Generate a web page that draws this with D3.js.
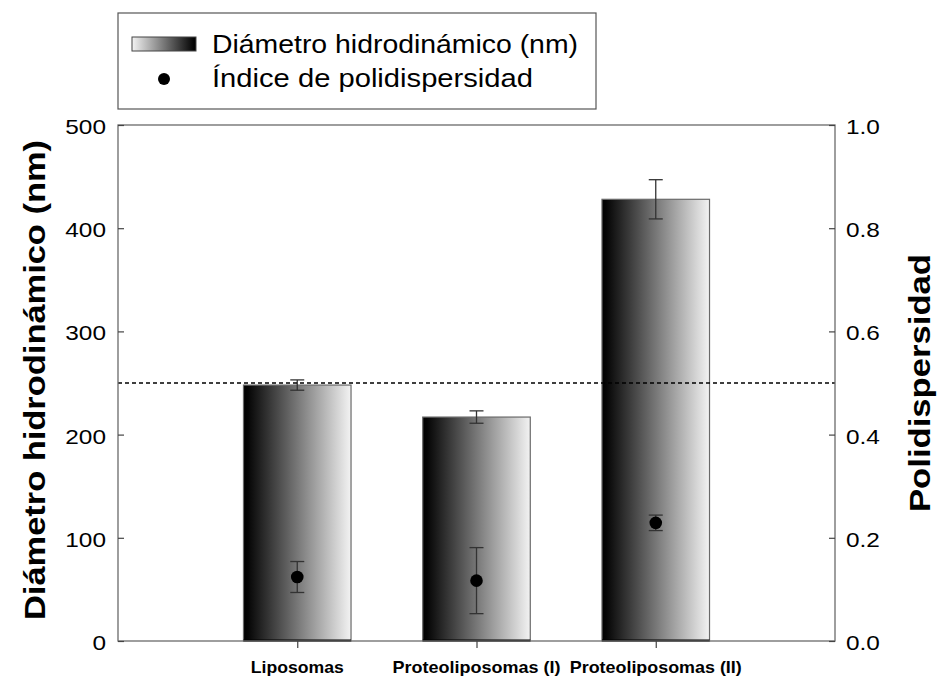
<!DOCTYPE html>
<html>
<head>
<meta charset="utf-8">
<script src="https://cdn.jsdelivr.net/npm/d3@7"></script>
<style>
  html, body { margin: 0; padding: 0; background: #fff; }
  svg { display: block; }
  text { font-family: "Liberation Sans", Arial, sans-serif; fill: #000; }
</style>
</head>
<body>
<svg id="chart" width="940" height="679"></svg>
<script>
// Samples and measurements
const categories = ["Liposomas", "Proteoliposomas (I)", "Proteoliposomas (II)"];
const diameter = [248, 217, 428];          // hydrodynamic diameter, nm
const diameterErr = [5, 6, 19];
const pdi = [0.124, 0.117, 0.229];         // polydispersity index
const pdiErr = [0.030, 0.064, 0.015];
const diameterRef = 250;                   // dashed reference level, nm
const leftTicks = [0, 100, 200, 300, 400, 500];
const rightTicks = [0, 0.2, 0.4, 0.6, 0.8, 1.0];
const legendLabels = ["Diámetro hidrodinámico (nm)", "Índice de polidispersidad"];
const yTitleLeft = "Diámetro hidrodinámico (nm)";
const yTitleRight = "Polidispersidad";

const svg = d3.select("#chart");
const plot = { left: 118, right: 835, top: 125, bottom: 641 };

const x = d3.scalePoint().domain(categories).range([plot.left, plot.right]).padding(1);
const yL = d3.scaleLinear().domain([0, 500]).range([plot.bottom, plot.top]);
const yR = d3.scaleLinear().domain([0, 1]).range([plot.bottom, plot.top]);
const barW = x.step() * 0.6;

// Gradients: bars go dark to light, legend swatch light to dark
const defs = svg.append("defs");
const gBar = defs.append("linearGradient").attr("id", "barGrad").attr("x1", 0).attr("x2", 1).attr("y1", 0).attr("y2", 0);
gBar.append("stop").attr("offset", 0).attr("stop-color", "#000");
gBar.append("stop").attr("offset", 0.04).attr("stop-color", "#050505");
gBar.append("stop").attr("offset", 1).attr("stop-color", "#f3f3f3");
const gLeg = defs.append("linearGradient").attr("id", "legGrad").attr("x1", 0).attr("x2", 1).attr("y1", 0).attr("y2", 0);
gLeg.append("stop").attr("offset", 0).attr("stop-color", "#f3f3f3");
gLeg.append("stop").attr("offset", 0.96).attr("stop-color", "#050505");
gLeg.append("stop").attr("offset", 1).attr("stop-color", "#000");

// Bars
const bars = svg.append("g");
categories.forEach((c, i) => {
  bars.append("rect")
    .attr("x", x(c) - barW / 2).attr("y", yL(diameter[i]))
    .attr("width", barW).attr("height", yL(0) - yL(diameter[i]))
    .attr("fill", "url(#barGrad)").attr("stroke", "#6a6a6a").attr("stroke-width", 1.2);
  bars.append("line")
    .attr("x1", x(c) - barW / 2).attr("x2", x(c) + barW / 2)
    .attr("y1", yL(0) - 0.5).attr("y2", yL(0) - 0.5)
    .attr("stroke", "#000").attr("stroke-width", 2);
});

// Error bar helper
function errBar(g, cx, yTop, yBot, cap) {
  g.append("line").attr("x1", cx).attr("x2", cx).attr("y1", yTop).attr("y2", yBot)
    .attr("stroke", "#333").attr("stroke-width", 1.3);
  [yTop, yBot].forEach(yy => g.append("line")
    .attr("x1", cx - cap / 2).attr("x2", cx + cap / 2).attr("y1", yy).attr("y2", yy)
    .attr("stroke", "#333").attr("stroke-width", 1.3));
}

const errs = svg.append("g");
categories.forEach((c, i) => {
  errBar(errs, x(c), yL(diameter[i] + diameterErr[i]), yL(diameter[i] - diameterErr[i]), 14);
  errBar(errs, x(c), yR(pdi[i] + pdiErr[i]), yR(pdi[i] - pdiErr[i]), 14);
  errs.append("circle").attr("cx", x(c)).attr("cy", yR(pdi[i])).attr("r", 6.3).attr("fill", "#000");
});

// Dashed reference line
svg.append("line")
  .attr("x1", plot.left).attr("x2", plot.right)
  .attr("y1", yL(diameterRef)).attr("y2", yL(diameterRef))
  .attr("stroke", "#000").attr("stroke-width", 1.4).attr("stroke-dasharray", "4,3");

// Frame
svg.append("rect")
  .attr("x", plot.left).attr("y", plot.top)
  .attr("width", plot.right - plot.left).attr("height", plot.bottom - plot.top)
  .attr("fill", "none").attr("stroke", "#6a6a6a").attr("stroke-width", 1.3);

// Axes
const axL = svg.append("g").attr("transform", `translate(${plot.left},0)`)
  .call(d3.axisRight(yL).tickValues(leftTicks).tickSize(6).tickFormat(""));
const axR = svg.append("g").attr("transform", `translate(${plot.right},0)`)
  .call(d3.axisLeft(yR).tickValues(rightTicks).tickSize(6).tickFormat(""));
const axB = svg.append("g").attr("transform", `translate(0,${plot.bottom})`)
  .call(d3.axisBottom(x).tickSize(7).tickFormat(""));
[axL, axR, axB].forEach(a => {
  a.select(".domain").remove();
  a.selectAll(".tick line").attr("stroke", "#444").attr("stroke-width", 1.2);
});

// Tick labels
const stretch = 1.22;
leftTicks.forEach(v => {
  svg.append("text")
    .attr("transform", `translate(106,${yL(v) + 9}) scale(${stretch},1)`)
    .attr("text-anchor", "end").attr("font-size", 20).text(d3.format("d")(v));
});
rightTicks.forEach(v => {
  svg.append("text")
    .attr("transform", `translate(846,${yR(v) + 9}) scale(${stretch},1)`)
    .attr("text-anchor", "start").attr("font-size", 20).text(d3.format(".1f")(v));
});

// Category labels
const catLen = [93, 168, 172];
categories.forEach((c, i) => {
  svg.append("text")
    .attr("x", x(c)).attr("y", 673)
    .attr("text-anchor", "middle").attr("font-size", 17).attr("font-weight", "bold")
    .attr("textLength", catLen[i]).attr("lengthAdjust", "spacingAndGlyphs")
    .text(c);
});

// Axis titles
svg.append("text")
  .attr("transform", `translate(45,380) rotate(-90)`)
  .attr("text-anchor", "middle").attr("font-size", 30).attr("font-weight", "bold")
  .attr("textLength", 480).attr("lengthAdjust", "spacingAndGlyphs")
  .text(yTitleLeft);
svg.append("text")
  .attr("transform", `translate(930,383) rotate(-90)`)
  .attr("text-anchor", "middle").attr("font-size", 30).attr("font-weight", "bold")
  .attr("textLength", 258).attr("lengthAdjust", "spacingAndGlyphs")
  .text(yTitleRight);

// Legend
const leg = svg.append("g");
leg.append("rect").attr("x", 118).attr("y", 13).attr("width", 478).attr("height", 96)
  .attr("fill", "#fff").attr("stroke", "#555").attr("stroke-width", 1.2);
leg.append("rect").attr("x", 132).attr("y", 37).attr("width", 64).attr("height", 14)
  .attr("fill", "url(#legGrad)").attr("stroke", "#444").attr("stroke-width", 1);
leg.append("circle").attr("cx", 164).attr("cy", 79).attr("r", 6).attr("fill", "#000");
leg.append("text").attr("x", 212).attr("y", 53).attr("font-size", 25)
  .attr("textLength", 366).attr("lengthAdjust", "spacingAndGlyphs").text(legendLabels[0]);
leg.append("text").attr("x", 212).attr("y", 87).attr("font-size", 25)
  .attr("textLength", 321).attr("lengthAdjust", "spacingAndGlyphs").text(legendLabels[1]);
</script>
</body>
</html>
